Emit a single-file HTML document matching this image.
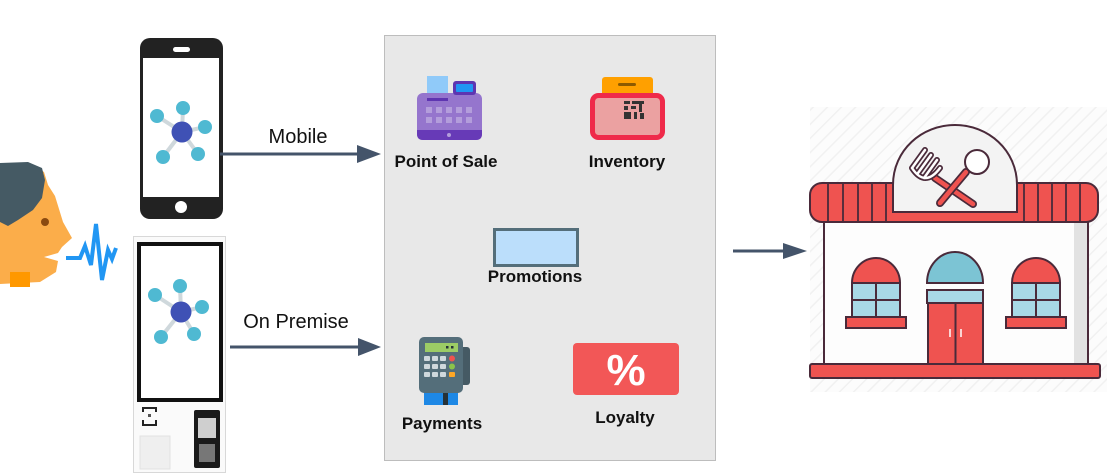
<!DOCTYPE html>
<html><head><meta charset="utf-8"><style>
html,body{margin:0;padding:0;background:#fff;}
svg{display:block;}
</style></head><body>
<svg width="1107" height="474" viewBox="0 0 1107 474" xmlns="http://www.w3.org/2000/svg">
<defs>
<pattern id="hatch" width="10" height="10" patternUnits="userSpaceOnUse" patternTransform="rotate(45)">
<rect width="10" height="10" fill="#fcfcfc"/>
<line x1="0" y1="0" x2="0" y2="10" stroke="#f1f1f1" stroke-width="3"/>
</pattern>
</defs>
<rect width="1107" height="474" fill="#fff"/>

<!-- Face -->
<path d="M0,165 L30,163 L44,172 L48,185 L55,196 L63,222 L72,238 L62,247 L58,253 L44,257 L58,261 L56,272 L40,282 L0,284 Z" fill="#fbad4a"/>
<path d="M0,163 L28,162 L42,168 L45,180 L42,198 L33,210 L18,220 L8,226 L0,222 Z" fill="#455a64"/>
<circle cx="45" cy="222" r="4" fill="#8a4a10"/>
<rect x="10" y="272" width="20" height="15" fill="#ff9800"/>
<polyline points="66,258 80,258 85,246 91,265 96,224 102,280 108,250 112,259 116,248" fill="none" stroke="#2196f3" stroke-width="4" stroke-linejoin="miter"/>

<!-- Mobile phone -->
<rect x="140" y="38" width="83" height="181" rx="10" fill="#222"/>
<rect x="143" y="58" width="76" height="139" fill="#fff"/>
<rect x="173" y="47" width="17" height="5" rx="2.5" fill="#fff"/>
<circle cx="181" cy="207" r="6" fill="#fff"/>
<g stroke="#cfd8dc" stroke-width="4">
<line x1="182" y1="132" x2="157" y2="116"/><line x1="182" y1="132" x2="183" y2="108"/>
<line x1="182" y1="132" x2="205" y2="127"/><line x1="182" y1="132" x2="198" y2="154"/>
<line x1="182" y1="132" x2="163" y2="157"/>
</g>
<g fill="#4fb9d2">
<circle cx="157" cy="116" r="7"/><circle cx="183" cy="108" r="7"/><circle cx="205" cy="127" r="7"/>
<circle cx="198" cy="154" r="7"/><circle cx="163" cy="157" r="7"/>
</g>
<circle cx="182" cy="132" r="10.5" fill="#3f51b5"/>

<!-- Kiosk -->
<rect x="133.5" y="236.5" width="92" height="236" fill="#fafafa" stroke="#d8d8d8"/>
<rect x="139" y="244" width="82" height="156" fill="#fff" stroke="#111" stroke-width="4"/>
<g stroke="#cfd8dc" stroke-width="4">
<line x1="181" y1="312" x2="155" y2="295"/><line x1="181" y1="312" x2="180" y2="286"/>
<line x1="181" y1="312" x2="202" y2="307"/><line x1="181" y1="312" x2="194" y2="334"/>
<line x1="181" y1="312" x2="161" y2="337"/>
</g>
<g fill="#4fb9d2">
<circle cx="155" cy="295" r="7"/><circle cx="180" cy="286" r="7"/><circle cx="202" cy="307" r="7"/>
<circle cx="194" cy="334" r="7"/><circle cx="161" cy="337" r="7"/>
</g>
<circle cx="181" cy="312" r="10.5" fill="#3f51b5"/>
<path d="M143,412 L143,408 L156,408 L156,412 M143,420 L143,425 L156,425 L156,420" fill="none" stroke="#222" stroke-width="2"/>
<rect x="148" y="414" width="3" height="3" fill="#555"/>
<rect x="140" y="436" width="30" height="33" fill="#efefef" stroke="#e2e2e2"/>
<rect x="194" y="410" width="26" height="58" rx="2" fill="#1a1a1a"/>
<rect x="198" y="418" width="18" height="20" fill="#cfcfcf"/>
<rect x="199" y="444" width="16" height="18" fill="#777"/>

<!-- Arrows left -->
<text x="298" y="143" font-family="Liberation Sans, sans-serif" font-size="20" text-anchor="middle" fill="#111">Mobile</text>
<line x1="220" y1="154" x2="360" y2="154" stroke="#44546a" stroke-width="3"/>
<polygon points="357,145 381,154 357,163" fill="#44546a"/>
<text x="296" y="328" font-family="Liberation Sans, sans-serif" font-size="20" text-anchor="middle" fill="#111">On Premise</text>
<line x1="230" y1="347" x2="360" y2="347" stroke="#44546a" stroke-width="3"/>
<polygon points="358,338 381,347 358,356" fill="#44546a"/>

<!-- Gray panel -->
<rect x="384.5" y="35.5" width="331" height="425" fill="#e8e8e8" stroke="#bdbdbd"/>

<!-- POS -->
<rect x="427" y="76" width="21" height="24" fill="#90caf9"/>
<rect x="417" y="93" width="65" height="47" rx="6" fill="#9575cd"/>
<rect x="427" y="98" width="21" height="3" fill="#5e35b1"/>
<path d="M417,130 L482,130 L482,134 Q482,140 476,140 L423,140 Q417,140 417,134 Z" fill="#673ab7"/>
<circle cx="449" cy="135" r="2" fill="#b39ddb"/>
<rect x="453" y="81" width="23" height="14" rx="3" fill="#5e35b1"/>
<rect x="456" y="84" width="17" height="8" rx="1" fill="#2196f3"/>
<g fill="#b39ddb">
<rect x="426" y="107" width="6" height="6"/><rect x="436" y="107" width="6" height="6"/><rect x="446" y="107" width="6" height="6"/><rect x="456" y="107" width="6" height="6"/><rect x="466" y="107" width="6" height="6"/>
<rect x="426" y="117" width="6" height="6"/><rect x="436" y="117" width="6" height="6"/><rect x="446" y="117" width="6" height="6"/><rect x="456" y="117" width="6" height="6"/><rect x="466" y="117" width="6" height="6"/>
</g>
<text x="446" y="167" font-family="Liberation Sans, sans-serif" font-size="17" font-weight="bold" text-anchor="middle" fill="#111">Point of Sale</text>

<!-- Inventory -->
<rect x="602" y="77" width="51" height="20" rx="3" fill="#ffa000"/>
<rect x="618" y="83" width="18" height="3" rx="1.5" fill="#8d5a00"/>
<rect x="592.5" y="95.5" width="70" height="42" rx="6" fill="#eba1a1" stroke="#ef2a4a" stroke-width="5"/>
<g fill="#333">
<rect x="624" y="101" width="6" height="3"/><rect x="632" y="101" width="12" height="3"/>
<rect x="624" y="106" width="4" height="4"/><rect x="631" y="106" width="5" height="3"/><rect x="639" y="104" width="3" height="8"/>
<rect x="624" y="112" width="7" height="7"/><rect x="634" y="112" width="3" height="7"/><rect x="640" y="113" width="4" height="6"/>
</g>
<text x="627" y="167" font-family="Liberation Sans, sans-serif" font-size="17" font-weight="bold" text-anchor="middle" fill="#111">Inventory</text>

<!-- Promotions -->
<rect x="494.5" y="229.5" width="83" height="36" fill="#bbdefb" stroke="#546e7a" stroke-width="3"/>
<text x="535" y="282" font-family="Liberation Sans, sans-serif" font-size="17" font-weight="bold" text-anchor="middle" fill="#111">Promotions</text>

<!-- Payments -->
<rect x="459" y="347" width="11" height="38" rx="3" fill="#455a64"/>
<rect x="424" y="390" width="34" height="15" fill="#1e88e5"/>
<rect x="443" y="390" width="5" height="15" fill="#263238"/>
<rect x="419" y="337" width="44" height="56" rx="5" fill="#546e7a"/>
<rect x="425" y="343" width="33" height="9" fill="#9ccc65"/>
<rect x="446" y="346" width="2.5" height="2.5" fill="#263238"/><rect x="451" y="346" width="2.5" height="2.5" fill="#263238"/>
<g fill="#cfd8dc">
<rect x="424" y="356" width="6" height="5" rx="1"/><rect x="432" y="356" width="6" height="5" rx="1"/><rect x="440" y="356" width="6" height="5" rx="1"/>
<rect x="424" y="364" width="6" height="5" rx="1"/><rect x="432" y="364" width="6" height="5" rx="1"/><rect x="440" y="364" width="6" height="5" rx="1"/>
<rect x="424" y="372" width="6" height="5" rx="1"/><rect x="432" y="372" width="6" height="5" rx="1"/><rect x="440" y="372" width="6" height="5" rx="1"/>
</g>
<circle cx="452" cy="358.5" r="3" fill="#ef5350"/>
<circle cx="452" cy="366.5" r="3" fill="#8bc34a"/>
<rect x="449" y="372" width="6" height="5" rx="1" fill="#ffa726"/>
<text x="442" y="429" font-family="Liberation Sans, sans-serif" font-size="17" font-weight="bold" text-anchor="middle" fill="#111">Payments</text>

<!-- Loyalty -->
<rect x="573" y="343" width="106" height="52" rx="4" fill="#f25757"/>
<text x="626" y="385" font-family="Liberation Sans, sans-serif" font-size="44" font-weight="bold" text-anchor="middle" fill="#fff">%</text>
<text x="625" y="423" font-family="Liberation Sans, sans-serif" font-size="17" font-weight="bold" text-anchor="middle" fill="#111">Loyalty</text>

<!-- Right arrow -->
<line x1="733" y1="251" x2="786" y2="251" stroke="#44546a" stroke-width="3"/>
<polygon points="783,243 807,251 783,259" fill="#44546a"/>

<!-- Restaurant -->
<rect x="810" y="107" width="297" height="285" fill="url(#hatch)"/>
<g stroke="#4a2a3a" stroke-width="2">
<rect x="824" y="218" width="264" height="147" fill="#fdfdfd"/>
<rect x="1074" y="222" width="13" height="142" fill="#e2e2e2" stroke="none"/>
<rect x="810" y="183" width="288" height="39" rx="12" fill="#ef5350"/>
<g stroke-width="1.8">
<line x1="828" y1="184" x2="828" y2="221"/><line x1="843" y1="184" x2="843" y2="221"/><line x1="858" y1="184" x2="858" y2="221"/>
<line x1="872" y1="184" x2="872" y2="221"/><line x1="886" y1="184" x2="886" y2="221"/>
<line x1="1024" y1="184" x2="1024" y2="221"/><line x1="1038" y1="184" x2="1038" y2="221"/><line x1="1052" y1="184" x2="1052" y2="221"/>
<line x1="1066" y1="184" x2="1066" y2="221"/><line x1="1080" y1="184" x2="1080" y2="221"/>
</g>
<path d="M893,212 L893,185 C893,150 922,125 955,125 C988,125 1017,150 1017,185 L1017,212 Z" fill="#f3f3f3"/>
<!-- fork -->
<path d="M935,178 L973,204" stroke="#4a2a3a" stroke-width="8" stroke-linecap="round"/>
<path d="M935,178 L973,204" stroke="#ef5350" stroke-width="4.5" stroke-linecap="round"/>
<path d="M925,150 L912,168 M931,155 L918,173 M937,160 L924,178 M912,168 Q925,188 940,168" fill="none" stroke="#4a2a3a" stroke-width="6" stroke-linecap="round"/>
<path d="M925,150 L912,168 M931,155 L918,173 M937,160 L924,178 M912,168 Q925,188 940,168" fill="none" stroke="#fff" stroke-width="2.5" stroke-linecap="round"/>
<!-- spoon -->
<path d="M966,172 L940,203" stroke="#4a2a3a" stroke-width="8" stroke-linecap="round"/>
<path d="M966,172 L940,203" stroke="#ef5350" stroke-width="4.5" stroke-linecap="round"/>
<circle cx="977" cy="162" r="12" fill="#fff"/>
<!-- windows -->
<path d="M852,283 A24,25 0 0 1 900,283 Z" fill="#ef5350"/>
<rect x="852" y="283" width="48" height="34" fill="#a8d8e6"/>
<line x1="876" y1="283" x2="876" y2="317"/><line x1="852" y1="300" x2="900" y2="300"/>
<rect x="846" y="317" width="60" height="11" fill="#ef5350"/>
<path d="M1012,283 A24,25 0 0 1 1060,283 Z" fill="#ef5350"/>
<rect x="1012" y="283" width="48" height="34" fill="#a8d8e6"/>
<line x1="1036" y1="283" x2="1036" y2="317"/><line x1="1012" y1="300" x2="1060" y2="300"/>
<rect x="1006" y="317" width="60" height="11" fill="#ef5350"/>
<!-- door -->
<path d="M927,283 A28,31 0 0 1 983,283 Z" fill="#7cc4d4"/>
<rect x="927" y="290" width="56" height="13" fill="#a8d8e6"/>
<rect x="928" y="303" width="55" height="61" fill="#ef5350"/>
<line x1="955.5" y1="303" x2="955.5" y2="364"/>
<rect x="810" y="364" width="290" height="14" rx="2" fill="#ef5350"/>
</g>
<g stroke="#fff" stroke-width="1.5">
<line x1="950" y1="329" x2="950" y2="337"/><line x1="961" y1="329" x2="961" y2="337"/>
</g>
</svg>
</body></html>
